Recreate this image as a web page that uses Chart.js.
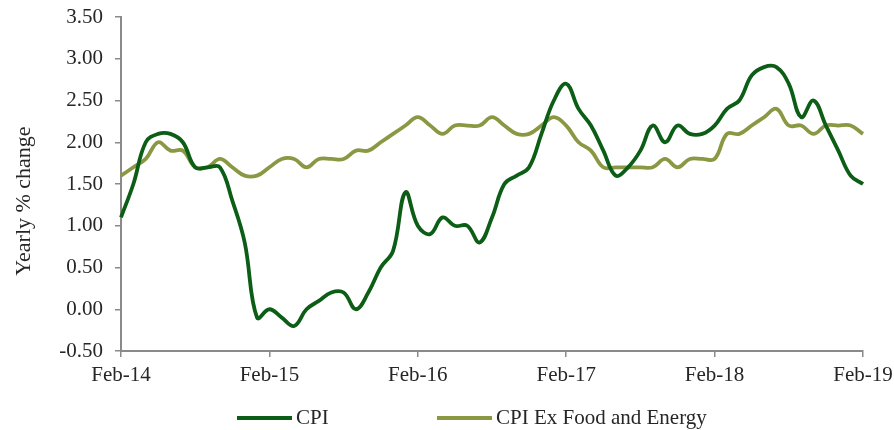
<!DOCTYPE html>
<html>
<head>
<meta charset="utf-8">
<script src="https://cdn.jsdelivr.net/npm/chart.js@4.4.1/dist/chart.umd.min.js"></script>
<style>
  html, body { margin: 0; padding: 0; background: #fff; }
  #wrap { width: 894px; height: 430px; position: relative; }
  .legend { position: absolute; top: 405px; font-family: "Liberation Serif", "Times New Roman", serif; font-size: 21px; color: #262626; line-height: 24px; white-space: nowrap; }
  .legend span.swatch { display: inline-block; width: 55px; height: 4px; vertical-align: middle; margin-right: 4px; position: relative; top: -1px; }
</style>
</head>
<body>
<div id="wrap">
  <canvas id="cpiChart"></canvas>
  <div class="legend" id="leg0" style="left:237px"></div>
  <div class="legend" id="leg1" style="left:437px"></div>
</div>
<script>
// monthly, Feb-14 .. Feb-19
const monthNames = ['Jan', 'Feb', 'Mar', 'Apr', 'May', 'Jun', 'Jul', 'Aug', 'Sep', 'Oct', 'Nov', 'Dec'];
const labels = [];
for (let i = 0; i <= 60; i++) {
    const m = (1 + i) % 12;
    const y = 14 + Math.floor((1 + i) / 12);
    labels.push(monthNames[m] + '-' + y);
}

const cpi = [
    1.1, 1.5, 2.0, 2.1, 2.1, 2.0, 1.7, 1.7, 1.7, 1.3, 0.8,
    -0.1, 0.0, -0.1, -0.2, 0.0, 0.1, 0.2, 0.2, 0.0, 0.2, 0.5, 0.7,
    1.4, 1.0, 0.9, 1.1, 1.0, 1.0, 0.8, 1.1, 1.5, 1.6, 1.7, 2.1,
    2.5, 2.7, 2.4, 2.2, 1.9, 1.6, 1.7, 1.9, 2.2, 2.0, 2.2, 2.1,
    2.1, 2.2, 2.4, 2.5, 2.8, 2.9, 2.9, 2.7, 2.3, 2.5, 2.2, 1.9,
    1.6, 1.5
];

const cpiCore = [
    1.6, 1.7, 1.8, 2.0, 1.9, 1.9, 1.7, 1.7, 1.8, 1.7, 1.6,
    1.6, 1.7, 1.8, 1.8, 1.7, 1.8, 1.8, 1.8, 1.9, 1.9, 2.0, 2.1,
    2.2, 2.3, 2.2, 2.1, 2.2, 2.2, 2.2, 2.3, 2.2, 2.1, 2.1, 2.2,
    2.3, 2.2, 2.0, 1.9, 1.7, 1.7, 1.7, 1.7, 1.7, 1.8, 1.7, 1.8,
    1.8, 1.8, 2.1, 2.1, 2.2, 2.3, 2.4, 2.2, 2.2, 2.1, 2.2, 2.2,
    2.2, 2.1
];

const seriesNames = ['CPI', 'CPI Ex Food and Energy'];
const seriesColors = ['#0c5d16', '#8b9843'];
const yTitle = 'Yearly % change';

const axisColor = '#8a8a8a';
const textColor = '#262626';
const fontFamily = '"Liberation Serif", "Times New Roman", serif';

Chart.defaults.font.family = fontFamily;
Chart.defaults.color = textColor;

// html legend below the chart
seriesNames.forEach((name, i) => {
    const el = document.getElementById('leg' + i);
    const sw = document.createElement('span');
    sw.className = 'swatch';
    sw.style.background = seriesColors[i];
    el.appendChild(sw);
    el.appendChild(document.createTextNode(name));
});

// y title drawn by hand so it can sit a little below the axis middle, like the original
const yTitlePlugin = {
    id: 'yTitle',
    afterDraw(chart) {
        const c = chart.ctx;
        c.save();
        c.translate(24, 201);
        c.rotate(-Math.PI / 2);
        c.font = '22px ' + fontFamily;
        c.fillStyle = textColor;
        c.textAlign = 'center';
        c.textBaseline = 'middle';
        c.fillText(yTitle, 0, 0);
        c.restore();
    }
};

const ctx = document.getElementById('cpiChart').getContext('2d');

new Chart(ctx, {
    type: 'line',
    data: {
        labels: labels,
        datasets: seriesNames.map((name, i) => ({
            label: name,
            data: i === 0 ? cpi : cpiCore,
            borderColor: seriesColors[i],
            backgroundColor: seriesColors[i],
            borderWidth: 3.8,
            pointRadius: 0,
            tension: 0.4
        }))
    },
    plugins: [yTitlePlugin],
    options: {
        responsive: true,
        maintainAspectRatio: false,
        animation: false,
        layout: {
            padding: { top: 17, right: 31, left: 0, bottom: 39 }
        },
        plugins: {
            legend: { display: false },
            tooltip: { enabled: false }
        },
        scales: {
            x: {
                offset: false,
                afterFit: scale => {
                    scale.height = 40;
                    scale.paddingLeft = 0;
                    scale.paddingRight = 0;
                },
                border: { display: true, color: axisColor, width: 2 },
                grid: {
                    drawOnChartArea: false,
                    drawTicks: true,
                    tickLength: 6,
                    color: axisColor,
                    lineWidth: 1.5
                },
                ticks: {
                    autoSkip: false,
                    maxRotation: 0,
                    padding: 6,
                    font: { size: 21 },
                    callback: function(val, idx) {
                        return idx % 12 === 0 ? this.getLabelForValue(val) : null;
                    }
                }
            },
            y: {
                min: -0.5,
                max: 3.5,
                afterFit: scale => {
                    scale.width = 121;
                    scale.paddingTop = 0;
                    scale.paddingBottom = 0;
                },
                border: { display: true, color: axisColor, width: 2 },
                grid: {
                    drawOnChartArea: false,
                    drawTicks: true,
                    tickLength: 6,
                    color: axisColor,
                    lineWidth: 1.5
                },
                ticks: {
                    stepSize: 0.5,
                    padding: 12,
                    font: { size: 21 },
                    callback: v => v.toFixed(2)
                }
            }
        }
    }
});
</script>
</body>
</html>
